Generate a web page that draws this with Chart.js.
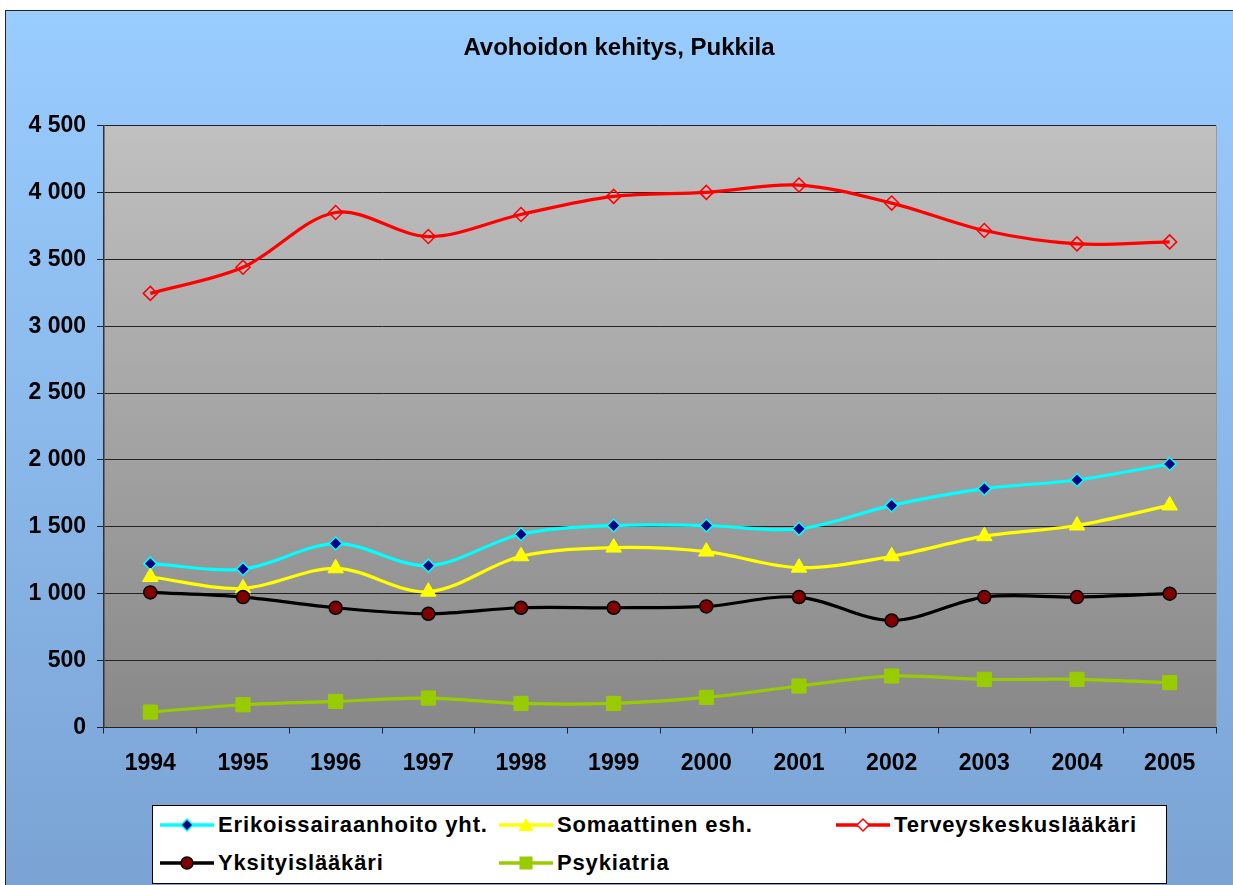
<!DOCTYPE html>
<html>
<head>
<meta charset="utf-8">
<script src="https://cdn.jsdelivr.net/npm/chart.js@4.4.1/dist/chart.umd.min.js"></script>
<style>
  html, body { margin: 0; padding: 0; background: #ffffff; }
  body { width: 1233px; height: 885px; position: relative; overflow: hidden;
         font-family: "Liberation Sans", Arial, sans-serif; }
  #frame { position: absolute; left: 5px; top: 10px; width: 1230px; height: 880px;
           border-left: 1px solid #222; border-top: 1px solid #222; box-sizing: border-box;
           background: linear-gradient(to bottom, #99CCFF 0%, #8DBCEE 40%, #7AA3D3 100%); }
  #c { position: absolute; left: 0; top: 0; }
  #legend { position: absolute; left: 152px; top: 805px; width: 1015px; height: 79px;
            box-sizing: border-box; border: 1px solid #000; background: #fff; }
  .item { position: absolute; height: 24px; display: flex; align-items: center; }
  .item svg { display: block; }
  .item span { font-weight: bold; font-size: 22px; letter-spacing: 0.85px; color: #000;
               margin-left: 4px; white-space: nowrap; line-height: 24px; }
</style>
</head>
<body>
<div id="frame"></div>
<canvas id="c" width="1233" height="885"></canvas>
<div id="legend"></div>
<script>
// ---- data ----
const titleText = 'Avohoidon kehitys, Pukkila';
const years = ['1994','1995','1996','1997','1998','1999','2000','2001','2002','2003','2004','2005'];
const seriesNames = ['Erikoissairaanhoito yht.', 'Somaattinen esh.', 'Terveyskeskuslääkäri', 'Yksityislääkäri', 'Psykiatria'];
const erikoissairaanhoito = [1225, 1185, 1375, 1210, 1445, 1510, 1510, 1485, 1660, 1785, 1850, 1970];
const somaattinen        = [1125, 1040, 1190, 1015, 1280, 1345, 1315, 1195, 1280, 1430, 1510, 1660];
const terveyskeskus      = [3245, 3440, 3850, 3670, 3835, 3970, 4000, 4055, 3920, 3715, 3615, 3630];
const yksityis           = [1010,  975,  895,  850,  895,  895,  905,  975,  800,  975,  975, 1000];
const psykiatria         = [ 115,  170,  195,  220,  180,  180,  225,  310,  385,  360,  360,  335];
const yMin = 0, yMax = 4500, yStep = 500;

// ---- styles ----
const styles = [
  { line: '#00FFFF', pt: 'rectRot', fill: '#000080', border: '#00FFFF', r: 6.5, bw: 1.5 },
  { line: '#FFFF00', pt: 'triangle', fill: '#FFFF00', border: '#FFFF00', r: 9, bw: 1 },
  { line: '#FF0000', pt: 'rectRot', fill: 'rgba(0,0,0,0)', border: '#FF0000', r: 7, bw: 1.5 },
  { line: '#000000', pt: 'circle', fill: '#800000', border: '#000000', r: 6.5, bw: 1.5 },
  { line: '#99CC00', pt: 'rect', fill: '#99CC00', border: '#99CC00', r: 10, bw: 1 }
];
const allData = [erikoissairaanhoito, somaattinen, terveyskeskus, yksityis, psykiatria];

const fmt = v => String(v).replace(/\B(?=(\d{3})+(?!\d))/g, ' ');
const FONT = '"Liberation Sans", Arial, sans-serif';

const plotBg = {
  id: 'plotBg',
  beforeDraw(chart) {
    const { ctx, chartArea: a } = chart;
    const g = ctx.createLinearGradient(0, a.top, 0, a.bottom);
    g.addColorStop(0, '#C0C0C0');
    g.addColorStop(1, '#888888');
    ctx.save();
    ctx.fillStyle = g;
    ctx.fillRect(a.left, a.top, a.right - a.left, a.bottom - a.top);
    ctx.strokeStyle = '#9a9a9a';
    ctx.lineWidth = 1;
    ctx.beginPath();
    ctx.moveTo(a.right + 0.5, a.top);
    ctx.lineTo(a.right + 0.5, a.bottom);
    ctx.stroke();
    ctx.restore();
  }
};

const datasets = seriesNames.map((name, i) => ({
  label: name,
  data: allData[i],
  borderColor: styles[i].line,
  backgroundColor: styles[i].line,
  borderWidth: 3.2,
  tension: 0.33,
  pointStyle: styles[i].pt,
  pointRadius: styles[i].r,
  pointHoverRadius: styles[i].r,
  pointBackgroundColor: styles[i].fill,
  pointBorderColor: styles[i].border,
  pointBorderWidth: styles[i].bw,
  order: seriesNames.length - i,
  fill: false
}));

const LEFT_PAD = 22;
new Chart(document.getElementById('c'), {
  type: 'line',
  data: { labels: years, datasets },
  plugins: [plotBg],
  options: {
    responsive: false,
    animation: false,
    devicePixelRatio: 1,
    layout: { padding: { left: LEFT_PAD, right: 17, top: 0, bottom: 97.5 } },
    plugins: {
      legend: { display: false },
      tooltip: { enabled: false },
      title: {
        display: true,
        text: titleText,
        color: '#000',
        font: { family: FONT, size: 24, weight: 'bold', lineHeight: 1.2 },
        padding: { top: 34, bottom: 62.7 }
      }
    },
    scales: {
      x: {
        offset: true,
        grid: { display: true, offset: true, drawOnChartArea: false, drawTicks: true, tickLength: 6, color: '#222', lineWidth: 1 },
        border: { display: true, color: '#222', width: 1 },
        ticks: { color: '#000', padding: 16, maxRotation: 0, autoSkip: false,
                 font: { family: FONT, size: 23, weight: 'bold' } },
        afterFit(scale) { scale.height = 60; }
      },
      y: {
        min: yMin, max: yMax,
        grid: { color: '#222', lineWidth: 1, drawTicks: true, tickLength: 7 },
        border: { display: true, color: '#333', width: 1.5 },
        ticks: { stepSize: yStep, color: '#000', padding: 11,
                 font: { family: FONT, size: 23, weight: 'bold' },
                 callback: v => fmt(v) },
        afterFit(scale) { scale.width = 104 - LEFT_PAD; }
      }
    }
  }
});

// ---- HTML legend ----
function symbolSvg(s) {
  const w = 54, h = 20, cx = 27, cy = 10;
  let m = '';
  if (s.pt === 'rectRot') {
    const r = 6;
    m = `<polygon points="${cx-r},${cy} ${cx},${cy-r} ${cx+r},${cy} ${cx},${cy+r}" fill="${s.fill === 'rgba(0,0,0,0)' ? '#fff' : s.fill}" stroke="${s.border}" stroke-width="1.5"/>`;
  } else if (s.pt === 'triangle') {
    m = `<polygon points="${cx},${cy-7} ${cx+7.5},${cy+6} ${cx-7.5},${cy+6}" fill="${s.fill}"/>`;
  } else if (s.pt === 'circle') {
    m = `<circle cx="${cx}" cy="${cy}" r="6" fill="${s.fill}" stroke="${s.border}" stroke-width="1.5"/>`;
  } else if (s.pt === 'rect') {
    m = `<rect x="${cx-6.5}" y="${cy-6.5}" width="13" height="13" fill="${s.fill}"/>`;
  }
  return `<svg width="${w}" height="${h}" viewBox="0 0 ${w} ${h}"><line x1="0" y1="${cy}" x2="${w}" y2="${cy}" stroke="${s.line}" stroke-width="3.5"/>${m}</svg>`;
}
const legendPos = [ [7, 7], [346, 7], [683, 7], [7, 45], [346, 45] ];
const lg = document.getElementById('legend');
seriesNames.forEach((name, i) => {
  const d = document.createElement('div');
  d.className = 'item';
  d.style.left = legendPos[i][0] + 'px';
  d.style.top = legendPos[i][1] + 'px';
  d.innerHTML = symbolSvg(styles[i]) + '<span>' + name + '</span>';
  lg.appendChild(d);
});
</script>
</body>
</html>
